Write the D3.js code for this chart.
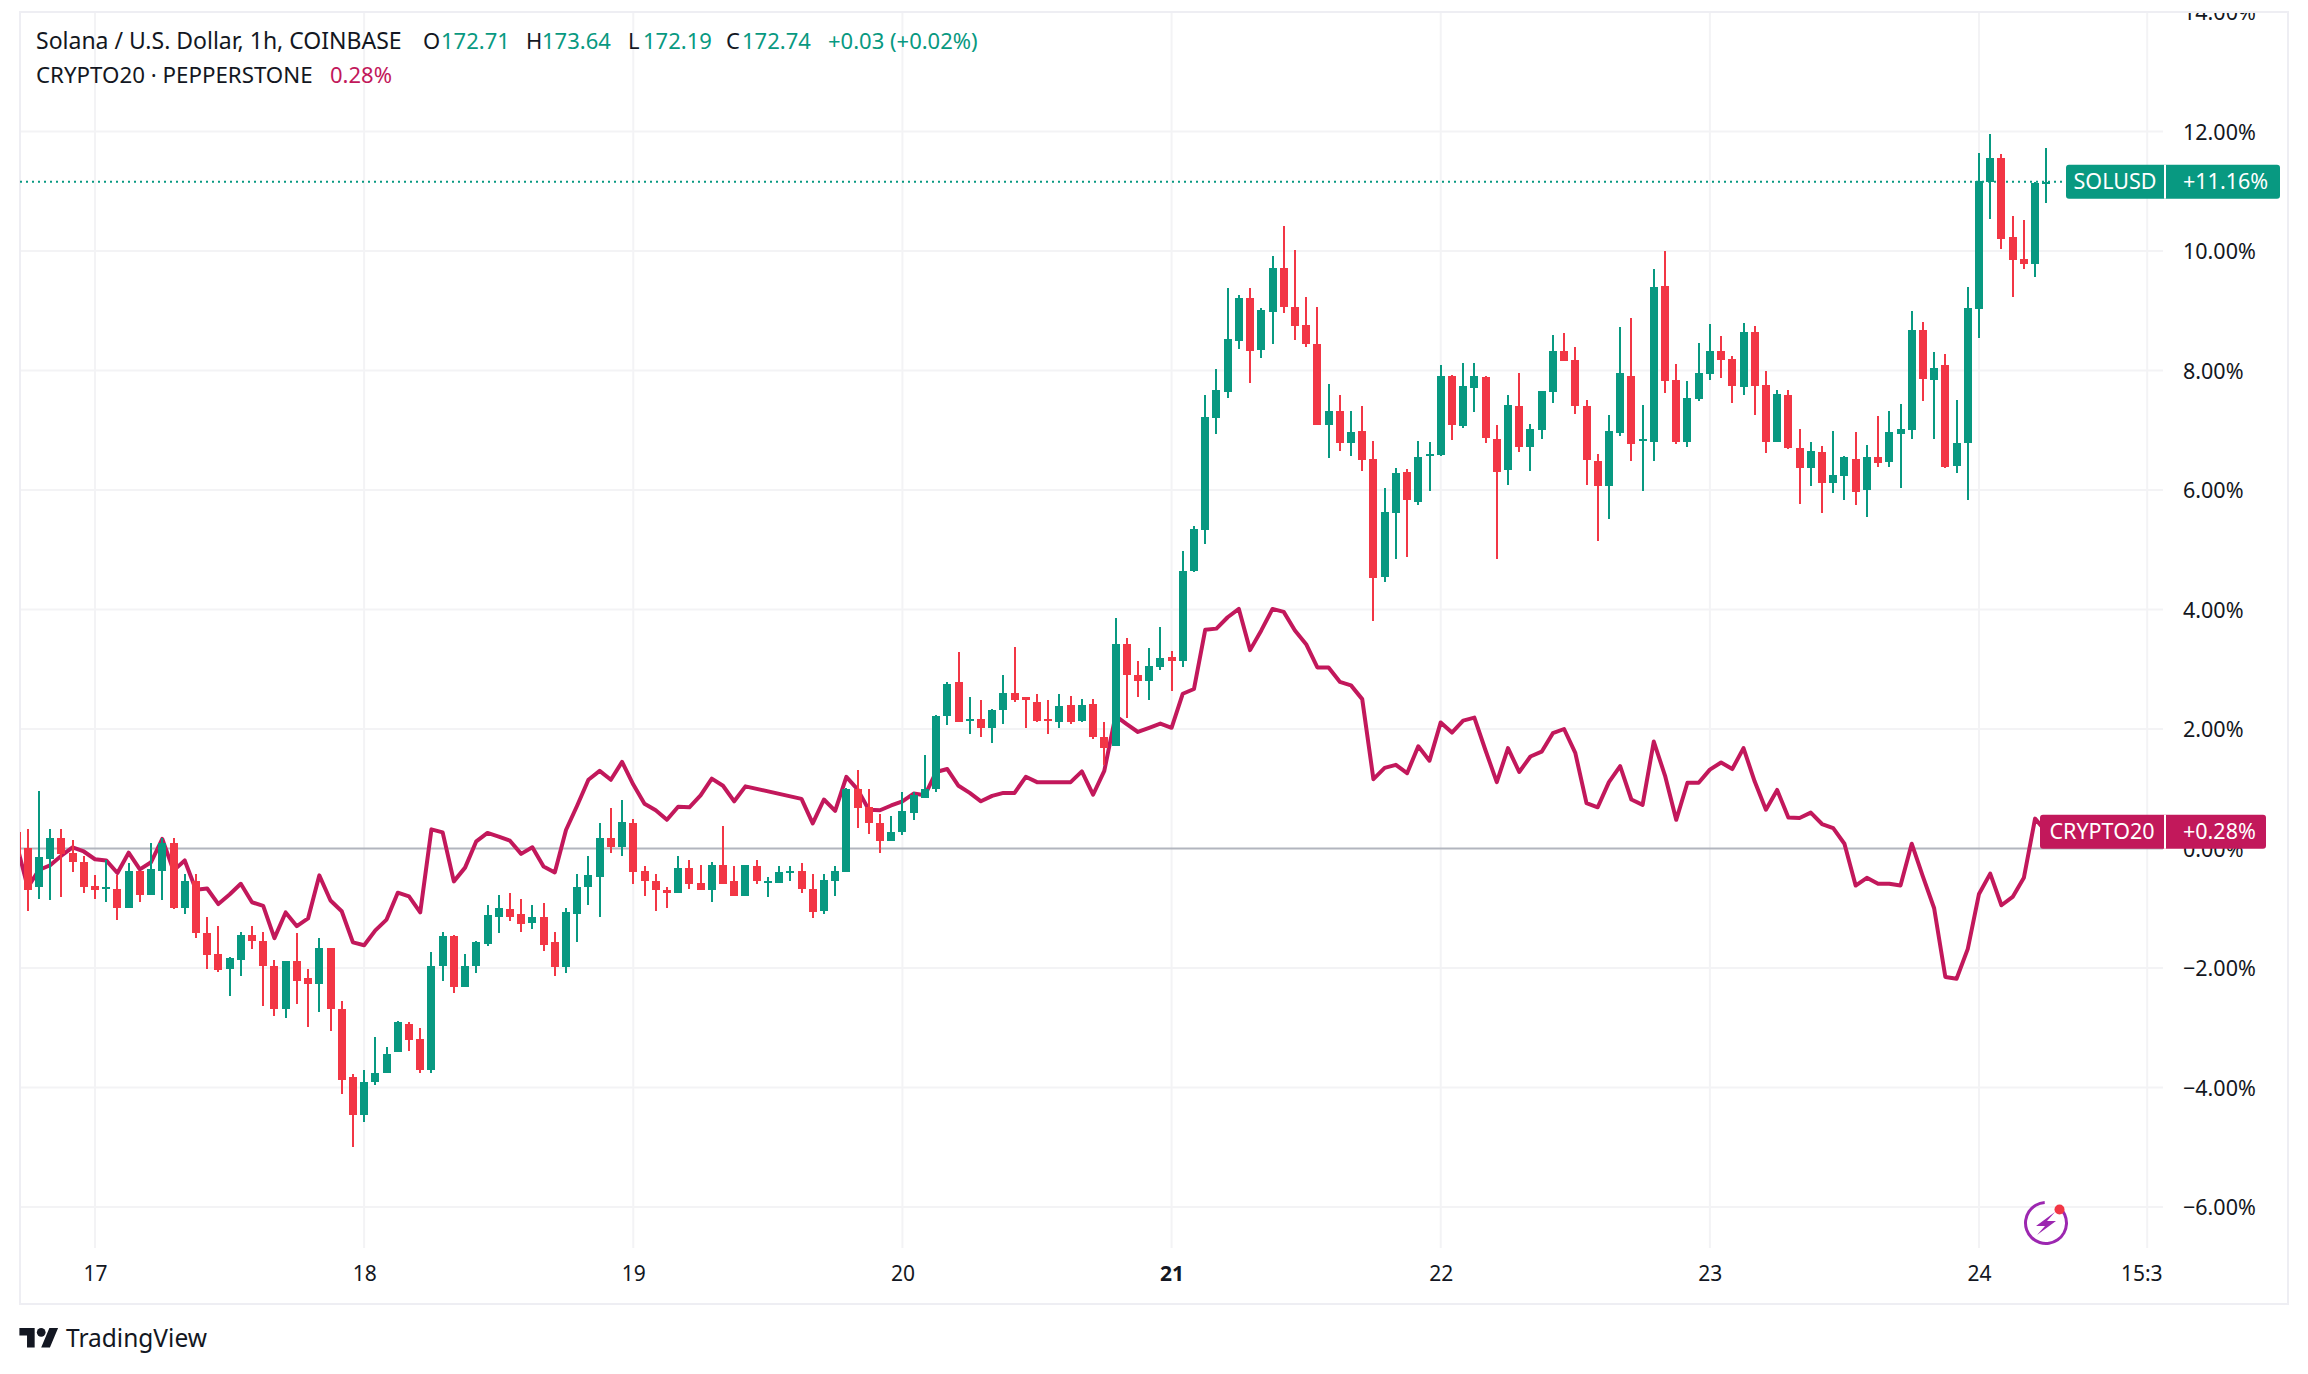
<!DOCTYPE html>
<html>
<head>
<meta charset="utf-8">
<title>SOLUSD vs CRYPTO20</title>
<script src="https://cdn.jsdelivr.net/npm/d3@7"></script>
<style>
  html, body { margin: 0; padding: 0; background: #fff; }
  svg { display: block; }
  text { font-family: "Noto Sans", "Open Sans", sans-serif; fill: #131722; }
</style>
</head>
<body>
<svg id="chart" width="2308" height="1374"></svg>
<script>
// hours since the 17th 00:00, first candle is at -7
const firstHour = -7;

const opens = [
  .27, .01, -.65, -.17, .17, -.07, -.22, -.62, -.66, -.67,
  -1.00, -.38, -.77, -.37, .10, -.99, -.54, -1.42, -1.77, -2.02,
  -1.87, -1.45, -1.54, -1.96, -2.68, -1.89, -2.16, -2.26, -1.66, -2.68,
  -3.83, -4.46, -3.91, -3.75, -3.41, -2.93, -3.19, -3.70, -1.97, -1.47,
  -2.32, -1.97, -1.59, -1.15, -1.02, -1.09, -1.25, -1.14, -1.57, -1.99,
  -1.09, -.65, -.47, .18, .03, .43, -.37, -.55, -.69, -.74,
  -.32, -.57, -.69, -.27, -.55, -.80, -.30, -.56, -.57, -.40,
  -.38, -.67, -1.04, -.54, -.40, .99, .69, .42, .13, .27,
  .60, .85, 1.00, 2.21, 2.78, 2.15, 2.16, 2.01, 2.31, 2.61,
  2.53, 2.46, 2.17, 2.12, 2.41, 2.14, 2.42, 1.87, 1.71, 3.43,
  2.91, 2.81, 3.04, 3.21, 3.14, 4.65, 5.33, 7.21, 7.64, 8.49,
  9.21, 8.34, 8.98, 9.72, 9.06, 8.76, 8.44, 7.09, 7.32, 6.79,
  6.99, 6.52, 4.55, 5.62, 6.30, 5.80, 6.58, 6.59, 7.91, 7.07,
  7.71, 7.89, 6.86, 6.34, 7.41, 6.72, 7.01, 7.64, 8.33, 8.18,
  7.41, 6.49, 6.07, 6.96, 7.91, 6.83, 6.81, 9.42, 7.84, 6.81,
  7.53, 7.94, 8.33, 8.19, 7.73, 8.65, 7.76, 6.81, 7.59, 6.71,
  6.37, 6.64, 6.12, 6.24, 6.52, 6.00, 6.56, 6.47, 6.94, 7.01,
  8.68, 7.84, 8.09, 6.40, 6.79, 9.03, 11.15, 11.56, 10.23, 9.87,
  9.78, 11.14
];
const highs = [
  .27, .32, .97, .33, .33, .15, -.12, -.45, -.20, -.45,
  -.25, -.37, .10, .18, .18, -.43, -.42, -1.14, -1.30, -1.81,
  -1.40, -1.29, -1.39, -1.86, -1.89, -1.42, -2.02, -1.50, -1.66, -2.56,
  -3.78, -3.70, -3.16, -3.33, -2.89, -2.91, -3.01, -1.74, -1.39, -1.44,
  -1.77, -1.54, -.94, -.77, -.74, -.85, -.95, -.92, -1.39, -1.00,
  -.43, -.13, .43, .67, .82, .50, -.30, -.43, -.65, -.13,
  -.20, -.28, -.23, .37, -.30, -.28, -.20, -.48, -.30, -.30,
  -.25, -.43, -.42, -.30, 1.02, 1.32, 1.00, .57, .55, .94,
  .94, 1.57, 2.24, 2.79, 3.29, 2.54, 2.49, 2.34, 2.91, 3.38,
  2.54, 2.58, 2.49, 2.58, 2.56, 2.51, 2.51, 2.12, 3.86, 3.53,
  3.14, 3.36, 3.71, 3.31, 4.98, 5.40, 7.59, 8.03, 9.38, 9.26,
  9.38, 9.05, 9.92, 10.42, 10.02, 9.23, 9.06, 7.78, 7.59, 7.32,
  7.41, 6.82, 6.04, 6.37, 6.35, 6.82, 6.81, 8.09, 7.93, 8.13,
  8.13, 7.91, 7.09, 7.59, 7.96, 7.11, 7.66, 8.60, 8.63, 8.39,
  7.51, 6.61, 7.26, 8.73, 8.88, 7.42, 9.70, 10.00, 8.11, 7.83,
  8.46, 8.78, 8.58, 8.24, 8.80, 8.75, 7.99, 7.68, 7.68, 7.02,
  6.81, 6.74, 6.99, 6.57, 6.97, 6.76, 7.24, 7.32, 7.44, 9.00,
  8.81, 8.31, 8.28, 7.51, 9.40, 11.64, 11.96, 11.62, 10.59, 10.52,
  11.15, 11.72
];
const lows = [
  -.20, -1.04, -.85, -.87, -.82, -.40, -.74, -.84, -.90, -1.20,
  -1.00, -.89, -.77, -.87, -1.02, -1.10, -1.50, -2.01, -2.07, -2.47,
  -2.14, -1.69, -2.64, -2.81, -2.83, -2.61, -2.98, -2.74, -3.06, -4.11,
  -5.00, -4.58, -3.96, -3.75, -3.41, -3.39, -3.75, -3.76, -2.22, -2.42,
  -2.32, -2.09, -1.64, -1.42, -1.22, -1.40, -1.34, -1.72, -2.14, -2.09,
  -1.57, -.95, -1.15, -.07, -.13, -.59, -.80, -1.05, -1.00, -.75,
  -.67, -.70, -.90, -.59, -.80, -.80, -.59, -.82, -.57, -.54,
  -.75, -1.17, -1.09, -.79, -.40, .35, .25, -.07, .12, .22,
  .47, .84, .95, 2.06, 2.12, 1.91, 1.87, 1.76, 2.09, 2.46,
  2.02, 2.11, 1.91, 2.02, 2.09, 2.11, 1.84, 1.39, 1.71, 2.19,
  2.53, 2.49, 2.99, 2.63, 3.03, 4.63, 5.10, 6.94, 7.54, 8.36,
  7.79, 8.21, 8.44, 8.96, 8.51, 8.39, 7.09, 6.54, 6.66, 6.57,
  6.32, 3.80, 4.46, 4.85, 4.88, 5.75, 5.99, 6.57, 6.84, 7.04,
  7.31, 6.79, 4.85, 6.09, 6.64, 6.32, 6.86, 7.46, 8.16, 7.27,
  6.09, 5.15, 5.52, 6.91, 6.49, 5.99, 6.49, 7.63, 6.77, 6.72,
  7.49, 7.84, 7.88, 7.46, 7.59, 7.26, 6.62, 6.81, 6.69, 5.77,
  6.07, 5.62, 5.95, 5.84, 5.75, 5.55, 6.39, 6.39, 6.04, 6.86,
  7.49, 6.86, 6.37, 6.29, 5.84, 8.55, 10.54, 10.03, 9.23, 9.70,
  9.56, 10.80
];
const closes = [
  -.14, -.69, -.15, .17, -.10, -.23, -.64, -.70, -.64, -.99,
  -.38, -.77, -.35, .10, -1.00, -.55, -1.42, -1.79, -2.04, -1.84,
  -1.45, -1.54, -1.97, -2.68, -1.89, -2.22, -2.26, -1.66, -2.69, -3.88,
  -4.46, -3.91, -3.75, -3.44, -2.91, -3.21, -3.70, -1.97, -1.47, -2.32,
  -1.96, -1.57, -1.12, -1.00, -1.14, -1.27, -1.14, -1.61, -1.99, -1.07,
  -.65, -.45, .18, .03, .45, -.40, -.55, -.70, -.75, -.32,
  -.59, -.69, -.28, -.59, -.80, -.28, -.55, -.54, -.40, -.37,
  -.67, -1.07, -.52, -.38, .99, .67, .42, .13, .28, .62,
  .90, 1.00, 2.22, 2.76, 2.12, 2.17, 2.01, 2.32, 2.61, 2.49,
  2.49, 2.14, 2.15, 2.39, 2.12, 2.41, 1.86, 1.69, 3.43, 2.91,
  2.81, 3.06, 3.19, 3.14, 4.65, 5.35, 7.22, 7.68, 8.53, 9.21,
  8.33, 9.01, 9.72, 9.06, 8.75, 8.44, 7.09, 7.32, 6.79, 6.97,
  6.50, 4.53, 5.64, 6.29, 5.84, 6.56, 6.61, 7.91, 7.09, 7.74,
  7.91, 6.87, 6.30, 7.42, 6.72, 7.02, 7.66, 8.33, 8.16, 7.41,
  6.50, 6.07, 6.99, 7.96, 6.77, 6.86, 9.40, 7.83, 6.81, 7.54,
  7.96, 8.33, 8.18, 7.74, 8.65, 7.74, 6.81, 7.61, 6.71, 6.37,
  6.66, 6.12, 6.25, 6.56, 5.97, 6.56, 6.45, 6.97, 7.02, 8.68,
  7.86, 8.04, 6.39, 6.79, 9.05, 11.17, 11.56, 10.20, 9.85, 9.78,
  11.14, 11.16
];

// null where the index has no bar, the line just joins across
const cryptoValues = [
  .08, -.65, -.36, -.28, -.12, .02, -.05, -.18, -.20, -.41,
  -.07, -.35, -.23, .16, -.37, -.20, -.69, -.67, -.93, -.77,
  -.59, -.90, -.96, -1.50, -1.07, -1.30, -1.17, -.45, -.87, -1.05,
  -1.57, -1.62, -1.37, -1.19, -.74, -.80, -1.07, .32, .27, -.55,
  -.32, .12, .26, .20, .13, -.09, .02, -.30, -.40, .31,
  .72, 1.15, 1.30, 1.15, 1.45, 1.07, .75, .64, .48, .70,
  .69, .89, 1.17, 1.05, .79, 1.04, null, null, null, null,
  .83, .42, .82, .63, 1.20, .99, .65, .64, .72, .79,
  .92, .89, 1.28, 1.33, 1.05, .93, .79, .88, .93, .93,
  1.20, 1.11, 1.11, 1.11, 1.11, 1.29, .90, 1.30, 2.22, 2.08,
  1.95, 2.02, 2.09, 2.02, 2.59, 2.67, 3.66, 3.68, 3.87, 4.01,
  3.32, 3.65, 4.01, 3.96, 3.65, 3.42, 3.03, 3.03, 2.79, 2.73,
  2.50, 1.16, 1.35, 1.40, 1.26, 1.71, 1.47, 2.11, 1.94, 2.14,
  2.19, 1.64, 1.11, 1.68, 1.28, 1.54, 1.62, 1.93, 2.00, 1.60,
  .76, .69, 1.11, 1.38, .82, .73, 1.79, 1.22, .48, 1.10,
  1.10, 1.32, 1.44, 1.33, 1.68, 1.12, .65, .98, .52, .51,
  .60, .41, .34, .08, -.62, -.49, -.59, -.59, -.62, .08,
  -.47, -1.00, -2.15, -2.18, -1.68, -.76, -.42, -.95, -.81, -.49,
  .50, .28
];

const priceTicks = [-6, -4, -2, 0, 2, 4, 6, 8, 10, 12, 14];
const timeTicks = [0, 24, 48, 72, 96, 120, 144, 168, 183];
const timeLabels = ['17', '18', '19', '20', '21', '22', '23', '24', '15:3'];

const solLast = 11.16;
const cryptoLast = 0.28;

const upColor = '#089981';
const downColor = '#f23645';
const cryptoColor = '#c2185b';
const gridColor = '#f3f3f5';
const frameColor = '#eeeef3';

const frame = { left: 20, top: 12, right: 2288, bottom: 1304 };
const paneRight = 2163;
const paneBottom = 1248;

const candles = opens.map((open, i) => ({
  hour: firstHour + i,
  open,
  high: highs[i],
  low: lows[i],
  close: closes[i],
}));

const cryptoPoints = cryptoValues
  .map((value, i) => ({ hour: firstHour + i, value }))
  .filter((d) => d.value !== null);

const xScale = d3.scaleLinear().domain([0, 168]).range([95, 1979]);
const yScale = d3.scaleLinear().domain([-6, 12]).range([1207, 131.5]);

const svg = d3.select('#chart');

const defs = svg.append('defs');
defs
  .append('clipPath')
  .attr('id', 'pane-clip')
  .append('rect')
  .attr('x', frame.left)
  .attr('y', frame.top)
  .attr('width', paneRight - frame.left)
  .attr('height', paneBottom - frame.top);
defs
  .append('clipPath')
  .attr('id', 'price-clip')
  .append('rect')
  .attr('x', paneRight)
  .attr('y', frame.top + 1)
  .attr('width', frame.right - paneRight)
  .attr('height', paneBottom - frame.top);
defs
  .append('clipPath')
  .attr('id', 'time-clip')
  .append('rect')
  .attr('x', frame.left)
  .attr('y', paneBottom)
  .attr('width', paneRight - frame.left)
  .attr('height', frame.bottom - paneBottom);

// grid
const grid = svg.append('g').attr('class', 'grid');
grid
  .selectAll('.v')
  .data(timeTicks)
  .enter()
  .append('line')
  .attr('class', 'v')
  .attr('x1', (d) => xScale(d))
  .attr('x2', (d) => xScale(d))
  .attr('y1', frame.top)
  .attr('y2', paneBottom)
  .attr('stroke', gridColor)
  .attr('stroke-width', 2);
grid
  .selectAll('.h')
  .data(priceTicks.filter((d) => d !== 0 && d !== 14))
  .enter()
  .append('line')
  .attr('class', 'h')
  .attr('x1', frame.left)
  .attr('x2', paneRight)
  .attr('y1', (d) => yScale(d))
  .attr('y2', (d) => yScale(d))
  .attr('stroke', gridColor)
  .attr('stroke-width', 2);

// frame
svg
  .append('rect')
  .attr('x', frame.left)
  .attr('y', frame.top)
  .attr('width', frame.right - frame.left)
  .attr('height', frame.bottom - frame.top)
  .attr('fill', 'none')
  .attr('stroke', frameColor)
  .attr('stroke-width', 2);

const pane = svg.append('g').attr('clip-path', 'url(#pane-clip)');

// zero base line
pane
  .append('line')
  .attr('x1', frame.left)
  .attr('x2', paneRight)
  .attr('y1', yScale(0))
  .attr('y2', yScale(0))
  .attr('stroke', '#b2b5be')
  .attr('stroke-width', 2);

// last price dotted line
pane
  .append('line')
  .attr('x1', frame.left)
  .attr('x2', 2066)
  .attr('y1', yScale(solLast))
  .attr('y2', yScale(solLast))
  .attr('stroke', upColor)
  .attr('stroke-width', 2)
  .attr('stroke-dasharray', '2 4');

const line = d3
  .line()
  .x((d) => xScale(d.hour))
  .y((d) => yScale(d.value));

pane
  .append('path')
  .attr('d', line(cryptoPoints))
  .attr('fill', 'none')
  .attr('stroke', cryptoColor)
  .attr('stroke-width', 4)
  .attr('stroke-linejoin', 'round');

const candleColor = (d) => (d.close >= d.open ? upColor : downColor);

const bars = pane
  .selectAll('.candle')
  .data(candles)
  .enter()
  .append('g')
  .attr('class', 'candle')
  .attr('shape-rendering', 'crispEdges');

bars
  .append('rect')
  .attr('x', (d) => Math.round(xScale(d.hour)) - 1)
  .attr('y', (d) => yScale(d.high))
  .attr('width', 2)
  .attr('height', (d) => yScale(d.low) - yScale(d.high))
  .attr('fill', candleColor);

bars
  .append('rect')
  .attr('x', (d) => Math.round(xScale(d.hour)) - 4)
  .attr('y', (d) => yScale(Math.max(d.open, d.close)))
  .attr('width', 8)
  .attr('height', (d) => Math.max(2, Math.abs(yScale(d.open) - yScale(d.close))))
  .attr('fill', candleColor);

// price axis
const yAxis = d3
  .axisRight(yScale)
  .tickValues(priceTicks)
  .tickSize(0)
  .tickPadding(20)
  .tickFormat((d) => `${d < 0 ? '\u2212' : ''}${Math.abs(d).toFixed(2)}%`);

svg
  .append('g')
  .attr('clip-path', 'url(#price-clip)')
  .append('g')
  .attr('transform', `translate(${paneRight}, 1)`)
  .call(yAxis)
  .call((g) => g.select('.domain').remove())
  .selectAll('text')
  .attr('font-size', 21.5)
  .style('font-family', '"Noto Sans", sans-serif')
  .style('fill', '#131722');

// time axis
const xAxis = d3
  .axisBottom(xScale)
  .tickValues(timeTicks)
  .tickSize(0)
  .tickPadding(18)
  .tickFormat((d, i) => timeLabels[i]);

svg
  .append('g')
  .attr('clip-path', 'url(#time-clip)')
  .append('g')
  .attr('transform', `translate(0, ${paneBottom})`)
  .call(xAxis)
  .call((g) => g.select('.domain').remove())
  .selectAll('text')
  .attr('font-size', 21)
  .attr('font-weight', (d) => (d === 96 ? 700 : 400))
  .attr('dx', (d) => (d === 183 ? -6 : 0))
  .style('font-family', '"Noto Sans", sans-serif')
  .style('fill', '#131722');

// scale tags
const tags = [
  { value: solLast, name: 'SOLUSD', text: '+11.16%', color: upColor, x: 2066, x2: 2280 },
  { value: cryptoLast, name: 'CRYPTO20', text: '+0.28%', color: cryptoColor, x: 2040, x2: 2266 },
];

tags.forEach((tag) => {
  const cy = yScale(tag.value);
  const g = svg.append('g');
  g.append('rect')
    .attr('x', tag.x)
    .attr('y', cy - 17)
    .attr('width', tag.x2 - tag.x)
    .attr('height', 34)
    .attr('rx', 3)
    .attr('fill', tag.color);
  g.append('rect')
    .attr('x', 2164)
    .attr('y', cy - 17)
    .attr('width', 2)
    .attr('height', 34)
    .attr('fill', '#fff');
  g.append('text')
    .attr('x', (tag.x + 2164) / 2)
    .attr('y', cy + 7.5)
    .attr('text-anchor', 'middle')
    .attr('font-size', 21.5)
    .style('fill', '#fff')
    .text(tag.name);
  g.append('text')
    .attr('x', 2183)
    .attr('y', cy + 7.5)
    .attr('font-size', 21.5)
    .style('fill', '#fff')
    .text(tag.text);
});

// legend
const legendParts = [
  { x: 36, y: 49, size: 23, text: 'Solana / U.S. Dollar, 1h, COINBASE', fill: '#131722' },
  { x: 423, y: 49, size: 22, text: 'O', fill: '#131722' },
  { x: 441, y: 49, size: 22, text: '172.71', fill: upColor },
  { x: 526, y: 49, size: 22, text: 'H', fill: '#131722' },
  { x: 542, y: 49, size: 22, text: '173.64', fill: upColor },
  { x: 628, y: 49, size: 22, text: 'L', fill: '#131722' },
  { x: 643, y: 49, size: 22, text: '172.19', fill: upColor },
  { x: 726, y: 49, size: 22, text: 'C', fill: '#131722' },
  { x: 742, y: 49, size: 22, text: '172.74', fill: upColor },
  { x: 828, y: 49, size: 22, text: '+0.03 (+0.02%)', fill: upColor },
  { x: 36, y: 83, size: 22.3, text: 'CRYPTO20 \u00b7 PEPPERSTONE', fill: '#131722' },
  { x: 330, y: 83, size: 22, text: '0.28%', fill: cryptoColor },
];

svg
  .append('g')
  .selectAll('text')
  .data(legendParts)
  .enter()
  .append('text')
  .attr('x', (d) => d.x)
  .attr('y', (d) => d.y)
  .attr('font-size', (d) => d.size)
  .style('fill', (d) => d.fill)
  .text((d) => d.text);

// lightning badge
const badge = svg.append('g').attr('transform', 'translate(2046, 1223)');
badge
  .append('path')
  .attr('d', d3.arc()({
    innerRadius: 19,
    outerRadius: 22,
    startAngle: Math.PI * 0.22,
    endAngle: Math.PI * 1.98,
  }))
  .attr('fill', '#9c27b0');
badge
  .append('path')
  .attr('d', 'M9 -11 L-10 3 L-1 3 L-9 12 L10 -2 L1 -2 Z')
  .attr('fill', '#9c27b0');
badge
  .append('circle')
  .attr('cx', 13.5)
  .attr('cy', -13.5)
  .attr('r', 5)
  .attr('fill', '#f23645');

// logo
const logo = svg.append('g').attr('transform', 'translate(19.4, 1323.6) scale(1.09)');
logo.append('path').attr('d', 'M14 22H7V11H0V4h14v18zM28 22h-8l7.5-18h8L28 22z').attr('fill', '#131722');
logo.append('circle').attr('cx', 20).attr('cy', 8).attr('r', 4).attr('fill', '#131722');

svg
  .append('text')
  .attr('x', 66)
  .attr('y', 1347)
  .attr('font-size', 24.5)
  .text('TradingView');
</script>
</body>
</html>
